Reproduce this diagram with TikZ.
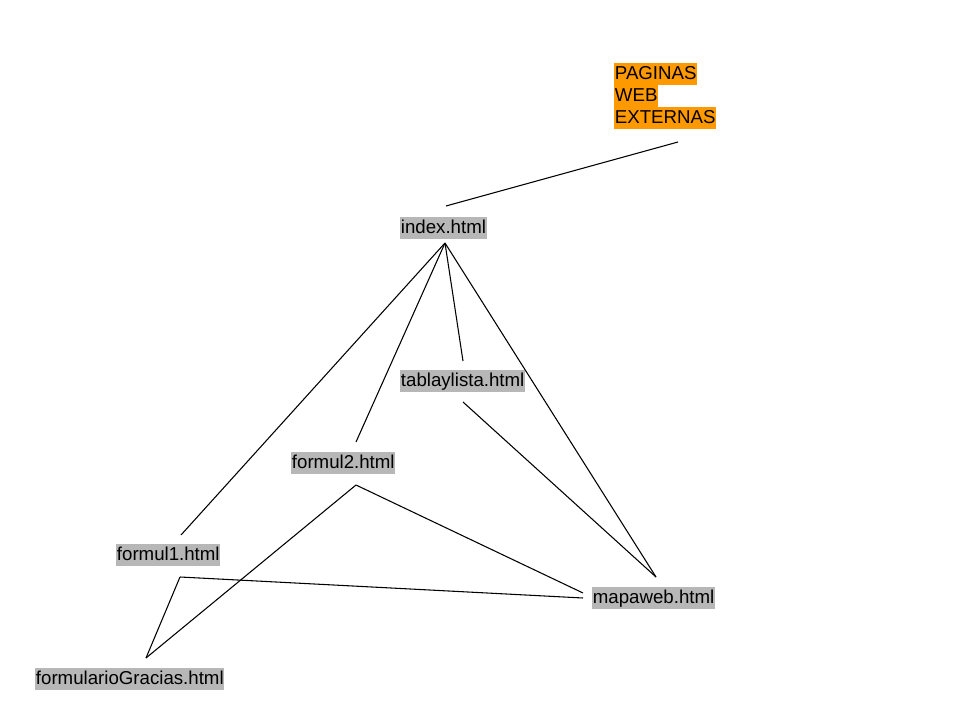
\documentclass[tikz,border=0pt]{standalone}
\usepackage{fontspec}
\setmainfont{Liberation Sans}
\definecolor{hlgray}{RGB}{183,183,183}
\definecolor{hlorange}{RGB}{255,153,0}
\begin{document}
\begin{tikzpicture}[x=0.75pt,y=-0.75pt,
  page/.style={anchor=west,fill=hlgray,font=\fontsize{14}{16.5}\selectfont,
    inner xsep=0.5pt,inner ysep=0.4pt,text height=12.2pt,text depth=3.3pt},
  ext/.style={page,fill=hlorange},
  link/.style={draw=black,line width=0.8pt}]
\useasboundingbox (0,0) rectangle (960,720);
% nodes
\node[ext] (ext1) at (614,74) {PAGINAS};
\node[ext] (ext2) at (614,96) {WEB};
\node[ext] (ext3) at (614,118) {EXTERNAS};
\node[page] (index) at (400,228) {index.html};
\node[page] (tabla) at (400,381) {tablaylista.html};
\node[page] (formul2) at (291,463) {formul2.html};
\node[page] (formul1) at (116,555) {formul1.html};
\node[page] (mapa) at (592,598) {mapaweb.html};
\node[page] (gracias) at (35,679) {formularioGracias.html};
% connector end points
\coordinate (extB) at (678,142);
\coordinate (indexT) at (446,206);
\coordinate (indexB) at (445,243);
\coordinate (tablaT) at (463,361);
\coordinate (tablaB) at (463,402);
\coordinate (formul2T) at (356,442);
\coordinate (formul2B) at (356,485);
\coordinate (formul1T) at (181,535);
\coordinate (formul1B) at (180,577);
\coordinate (mapaT) at (656,577);
\coordinate (mapaL1) at (583,593);
\coordinate (mapaL2) at (583,598);
\coordinate (graciasT) at (146,658);
% connectors
\draw[link] (extB) -- (indexT);
\draw[link] (indexB) -- (formul1T);
\draw[link] (indexB) -- (formul2T);
\draw[link] (indexB) -- (tablaT);
\draw[link] (indexB) -- (mapaT);
\draw[link] (tablaB) -- (mapaT);
\draw[link] (formul2B) -- (mapaL1);
\draw[link] (formul2B) -- (graciasT);
\draw[link] (formul1B) -- (graciasT);
\draw[link] (formul1B) -- (mapaL2);
\end{tikzpicture}
\end{document}
